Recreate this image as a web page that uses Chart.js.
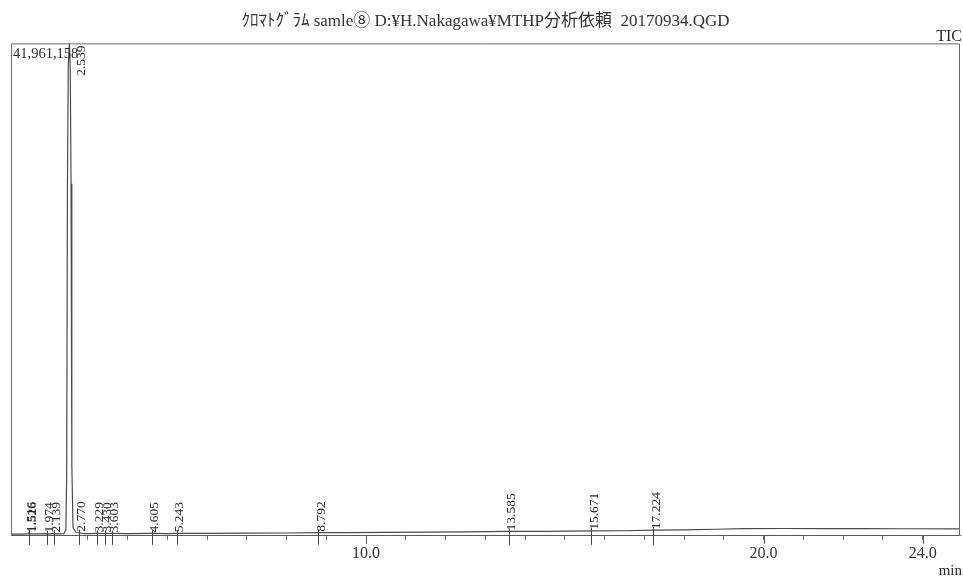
<!DOCTYPE html>
<html>
<head>
<meta charset="utf-8">
<script src="https://cdn.jsdelivr.net/npm/chart.js@4/dist/chart.umd.min.js"></script>
<style>
  html, body { margin: 0; padding: 0; background: #ffffff; }
  #wrap { width: 963px; height: 578px; }
</style>
</head>
<body>
<div id="wrap"><canvas id="tic" width="963" height="578"></canvas></div>
<script>
// Total ion chromatogram, retention time (min) vs. intensity
const retentionTimes = [
  1.07, 1.3, 1.5, 1.516, 1.526, 1.55, 1.8, 1.974, 2.05, 2.139, 2.25, 2.40,
  2.45, 2.47, 2.49, 2.51, 2.539, 2.56, 2.58, 2.60, 2.63, 2.70, 2.77, 2.85, 3.0, 3.229,
  3.43, 3.603, 4.0, 4.605, 5.0, 5.243, 6.0, 7.0, 8.0, 8.792, 9.5, 10.5,
  11.5, 12.5, 13.585, 14.5, 15.671, 16.5, 17.224, 18.0, 18.8, 19.5, 20.5,
  21.5, 22.5, 23.5, 24.94
];
const ticIntensity = [
  150000, 150000, 170000, 220000, 210000, 170000, 160000, 190000, 165000, 200000, 170000, 190000,
  500000, 5000000, 30000000, 40000000, 41961158, 40000000, 30000000, 6000000, 700000, 320000, 260000, 200000, 180000, 200000,
  195000, 200000, 180000, 200000, 190000, 210000, 200000, 220000, 240000, 270000, 270000, 290000,
  310000, 330000, 370000, 370000, 420000, 430000, 480000, 500000, 560000, 610000, 620000,
  615000, 605000, 600000, 590000
];
// Integrated peaks (retention time labels)
const peakTimes = [1.516, 1.526, 1.974, 2.139, 2.539, 2.770, 3.229, 3.430, 3.603, 4.605, 5.243, 8.792, 13.585, 15.671, 17.224];
const peakLabels = peakTimes.map(t => t.toFixed(3));
// Time ticks, three of them labelled
const tickValues = [2, 3, 4, 5, 6, 7, 8, 9, 10, 11, 12, 13, 14, 15, 16, 17, 18, 19, 20, 21, 22, 23, 24];
const tickLabels = { 10: '10.0', 20: '20.0', 24: '24.0' };
const intensityMax = 41961158;
const timeMin = 1.07, timeMax = 24.94;

const titleText = 'ｸﾛﾏﾄｸﾞﾗﾑ samle⑧ D:¥H.Nakagawa¥MTHP分析依頼  20170934.QGD';
const serif = "'Liberation Serif', 'Noto Sans CJK JP', serif";

function intensityAt(t) {
  let best = 0;
  for (let i = 1; i < retentionTimes.length; i++) {
    if (Math.abs(retentionTimes[i] - t) < Math.abs(retentionTimes[best] - t)) best = i;
  }
  return ticIntensity[best];
}

const chromatogramDecor = {
  id: 'chromatogramDecor',
  afterDraw(chart) {
    const { ctx, chartArea: a, scales: { x, y } } = chart;
    ctx.save();

    // plot frame (left, top, right)
    ctx.strokeStyle = '#6a6a6a';
    ctx.lineWidth = 1;
    ctx.beginPath();
    ctx.moveTo(a.left + 0.5, a.bottom);
    ctx.lineTo(a.left + 0.5, a.top + 0.5);
    ctx.lineTo(a.right - 0.5, a.top + 0.5);
    ctx.lineTo(a.right - 0.5, a.bottom);
    ctx.stroke();

    // longer marks at labelled ticks
    ctx.strokeStyle = '#555';
    Object.keys(tickLabels).forEach(v => {
      const px = Math.round(x.getPixelForValue(+v)) + 0.5;
      ctx.beginPath();
      ctx.moveTo(px, a.bottom);
      ctx.lineTo(px, a.bottom + 8);
      ctx.stroke();
    });

    // full-scale intensity and trace name
    ctx.fillStyle = '#2a2a2a';
    ctx.font = '14.5px ' + serif;
    ctx.textAlign = 'left';
    ctx.textBaseline = 'alphabetic';
    ctx.fillText(intensityMax.toLocaleString('en-US'), a.left + 2, a.top + 15);
    ctx.font = '16px ' + serif;
    ctx.textAlign = 'right';
    ctx.fillText('TIC', a.right + 2, a.top - 2);
    ctx.font = '15px ' + serif;
    ctx.fillText('min', a.right + 2, chart.height - 3);

    // retention time labels of the integrated peaks
    ctx.font = '13.5px ' + serif;
    ctx.textBaseline = 'middle';
    peakTimes.forEach((t, i) => {
      const px = x.getPixelForValue(t);
      const v = intensityAt(t);
      if (v >= intensityMax * 0.9) {
        ctx.save();
        ctx.translate(px + 12, a.top + 2);
        ctx.rotate(-Math.PI / 2);
        ctx.textAlign = 'right';
        ctx.fillText(peakLabels[i], 0, 0);
        ctx.restore();
        return;
      }
      const py = y.getPixelForValue(v);
      ctx.strokeStyle = '#444';
      ctx.beginPath();
      ctx.moveTo(Math.round(px) + 0.5, py - 3);
      ctx.lineTo(Math.round(px) + 0.5, a.bottom + 9);
      ctx.stroke();
      ctx.save();
      ctx.translate(px + 3, py - 1);
      ctx.rotate(-Math.PI / 2);
      ctx.textAlign = 'left';
      ctx.fillText(peakLabels[i], 0, 0);
      ctx.restore();
    });
    ctx.restore();
  }
};

new Chart(document.getElementById('tic'), {
  type: 'line',
  data: {
    datasets: [{
      label: 'TIC',
      data: retentionTimes.map((t, i) => ({ x: t, y: ticIntensity[i] })),
      borderColor: '#4a4a4a',
      borderWidth: 1.2,
      pointRadius: 0,
      tension: 0,
      fill: false
    }]
  },
  options: {
    responsive: false,
    animation: false,
    devicePixelRatio: 1,
    layout: { padding: { left: 11, right: 3, top: 0, bottom: 11 } },
    plugins: {
      legend: { display: false },
      tooltip: { enabled: false },
      title: {
        display: true,
        text: titleText,
        color: '#333',
        font: { family: serif, size: 17, weight: 'normal' },
        padding: { top: 11, bottom: 12 }
      }
    },
    scales: {
      x: {
        type: 'linear',
        min: timeMin,
        max: timeMax,
        afterBuildTicks: axis => { axis.ticks = tickValues.map(v => ({ value: v })); },
        ticks: {
          autoSkip: false,
          maxRotation: 0,
          padding: 4,
          color: '#333',
          font: { family: serif, size: 16 },
          callback: v => tickLabels[v] || ''
        },
        grid: { drawOnChartArea: false, tickLength: 4, color: '#666' },
        border: { display: true, color: '#5a5a5a', width: 1 }
      },
      y: {
        display: false,
        min: 0,
        max: intensityMax
      }
    }
  },
  plugins: [chromatogramDecor]
});
</script>
</body>
</html>
